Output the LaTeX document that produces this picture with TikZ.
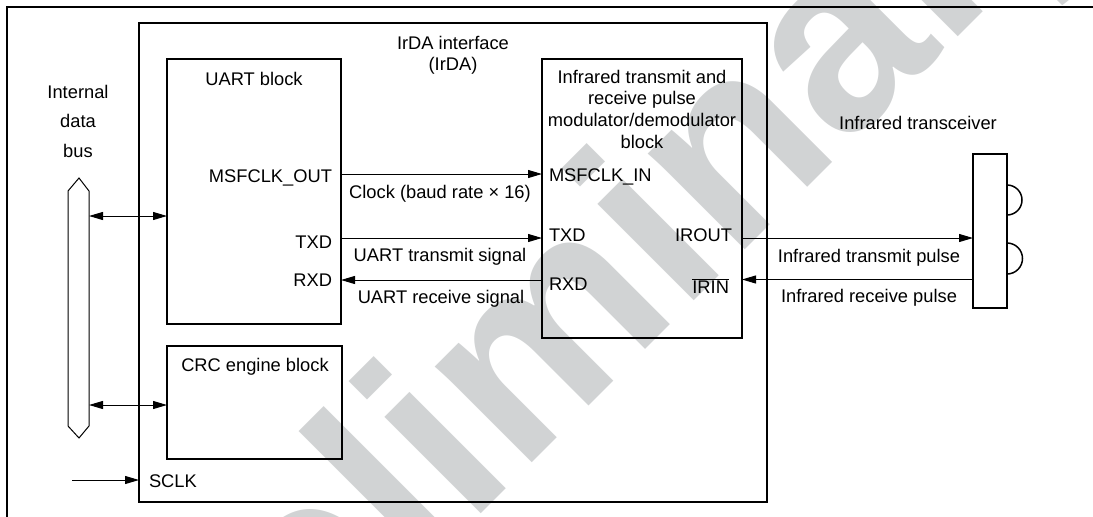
\documentclass[tikz,border=0pt]{standalone}
\usepackage{fontspec}
\setmainfont{Liberation Sans}
\usetikzlibrary{arrows.meta}
\definecolor{wm}{RGB}{209,211,212}
\begin{document}
\begin{tikzpicture}[x=1pt,y=-1pt,
  every node/.style={inner sep=0pt, outer sep=0pt, font=\fontsize{18.3}{21.7}\selectfont},
  blockbox/.style={draw, line width=1.8pt, rectangle, inner sep=0pt},
  sig/.style={line width=1pt, -{Triangle[length=14pt,width=8pt]}},
  dsig/.style={line width=1pt, {Triangle[length=14pt,width=8pt]}-{Triangle[length=14pt,width=8pt]}},
  lbl/.style={anchor=base},
  lblr/.style={anchor=base east},
  lbll/.style={anchor=base west}]
\useasboundingbox (0,0) rectangle (1093,517);
% watermark
\begin{scope}
\clip (0,0) rectangle (1093,517);
\node[font=\fontsize{258}{258}\selectfont\bfseries, text=wm, rotate=45, anchor=base west] (wmark) at (124,871) {Preliminary};
\end{scope}
% frame
\draw[line width=2.5pt] (7,517) -- (7,7) -- (1093,7);
% boxes
\node[blockbox, minimum width=628pt, minimum height=479pt] (irda) at (453,262.5) {};
\node[blockbox, minimum width=174pt, minimum height=265pt] (uart) at (254,191.5) {};
\node[blockbox, minimum width=175pt, minimum height=113pt] (crc) at (254.5,402.5) {};
\node[blockbox, minimum width=200pt, minimum height=279pt] (ir) at (642,198.5) {};
\node[blockbox, minimum width=34pt, minimum height=154pt] (xcvr) at (990,231) {};
% transceiver bulbs
\draw[line width=1.5pt] (1007,185) arc[start angle=-90, end angle=90, radius=15];
\draw[line width=1.5pt] (1007,243) arc[start angle=-90, end angle=90, radius=15.5];
% bus
\draw[line width=1pt] (79,178) -- (89,191) -- (89,426) -- (79,438) -- (68,426) -- (68,191) -- cycle;
\coordinate (busa) at (89,216);
\coordinate (busb) at (89,405);
\coordinate (uartin) at (167,216);
\coordinate (crcin) at (167,405);
\draw[dsig] (busa) -- (uartin);
\draw[dsig] (busb) -- (crcin);
% SCLK
\coordinate (sclksrc) at (72,480);
\coordinate (sclkin) at (139,480);
\draw[sig] (sclksrc) -- (sclkin);
\node[lbll] (sclk) at (149,487) {SCLK};
% titles
\node[align=center, font=\fontsize{18.3}{29.5}\selectfont] (busl) at (78,121) {Internal\\data\\bus};
\node[align=center, font=\fontsize{18.3}{21.5}\selectfont] (irdal) at (453,55.5) {IrDA interface\\(IrDA)};
\node[lbl] (uartl) at (254,85) {UART block};
\node[lbl] (crcl) at (255,371) {CRC engine block};
\node[align=center, font=\fontsize{18.3}{21.7}\selectfont] (irl) at (642,109.3) {Infrared transmit and\\receive pulse\\modulator/demodulator\\block};
\node[lbl] (xcvrl) at (918,129.5) {Infrared transceiver};
% UART pins
\node[lblr] (msfo) at (332,182) {MSFCLK\_OUT};
\node[lblr] (txdl) at (332,248) {TXD};
\node[lblr] (rxdl) at (332,286.5) {RXD};
% IR block pins
\node[lbll] (msfi) at (549,181.5) {MSFCLK\_IN};
\node[lbll] (txdr) at (549,241.5) {TXD};
\node[lbll] (rxdr) at (549,290.5) {RXD};
\node[lblr] (irout) at (732,241.5) {IROUT};
\node[lblr] (irin) at (729,293) {$\overline{\hbox{IRIN}}$};
% signal connectors
\coordinate (pmo) at (341,174);
\coordinate (pmi) at (542,174);
\coordinate (pto) at (341,238);
\coordinate (pti) at (542,238);
\coordinate (pro) at (542,280);
\coordinate (pri) at (341,280);
\coordinate (pio) at (742,238);
\coordinate (pxi) at (973,238);
\coordinate (pxo) at (973,279.5);
\coordinate (pii) at (742,279.5);
\draw[sig] (pmo) -- (pmi);
\draw[sig] (pto) -- (pti);
\draw[sig] (pro) -- (pri);
\draw[sig] (pio) -- (pxi);
\draw[sig] (pxo) -- (pii);
% connector labels
\node[lbl] (clk) at (440,198) {Clock (baud rate × 16)};
\node[lbl] (uts) at (440,261) {UART transmit signal};
\node[lbl] (urs) at (441,303) {UART receive signal};
\node[lbl] (itp) at (869,262) {Infrared transmit pulse};
\node[lbl] (irp) at (869,302) {Infrared receive pulse};
\end{tikzpicture}
\end{document}
